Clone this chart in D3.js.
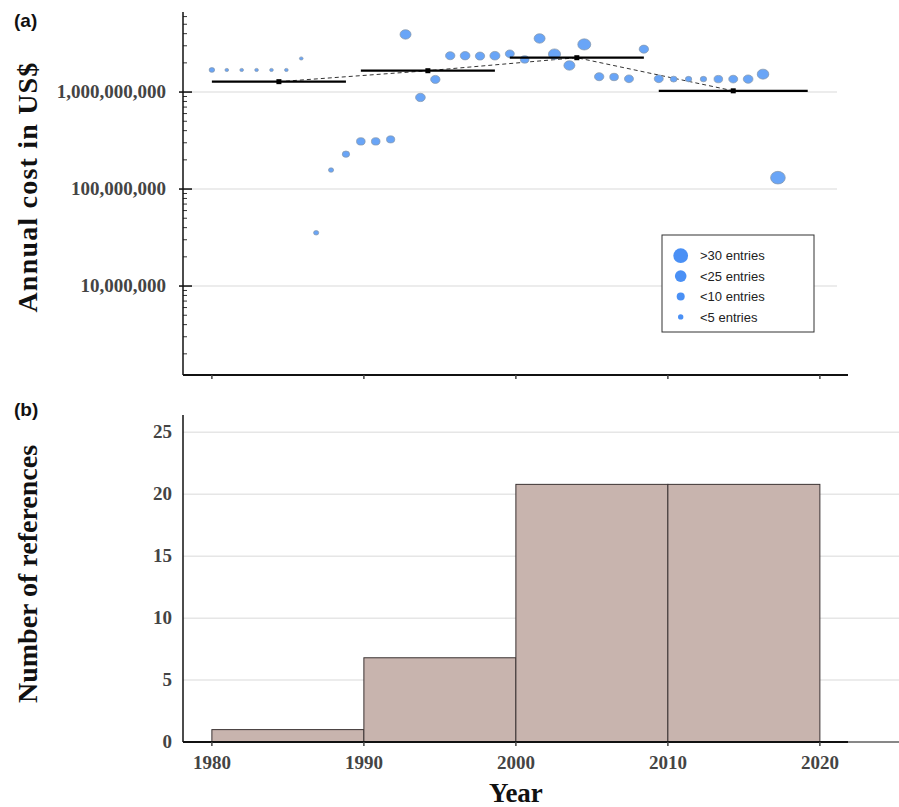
<!DOCTYPE html>
<html>
<head>
<meta charset="utf-8">
<script src="https://cdn.jsdelivr.net/npm/d3@7"></script>
<style>
	body { margin: 0; background: #fff; }
	svg { display: block; }
</style>
</head>
<body>
<svg id="chart"></svg>
<script>
// Panel (a): annual cost per year, panel (b): references per decade
var years = [1980, 1981, 1982, 1983, 1984, 1985, 1986, 1987, 1988, 1989,
	1990, 1991, 1992, 1993, 1994, 1995, 1996, 1997, 1998, 1999,
	2000, 2001, 2002, 2003, 2004, 2005, 2006, 2007, 2008, 2009,
	2010, 2011, 2012, 2013, 2014, 2015, 2016, 2017, 2018];
var costValues = [1.69e9, 1.69e9, 1.69e9, 1.69e9, 1.69e9, 1.69e9, 2.22e9, 3.54e7, 1.57e8, 2.29e8,
	3.1e8, 3.1e8, 3.25e8, 3.93e9, 8.8e8, 1.35e9, 2.37e9, 2.37e9, 2.35e9, 2.37e9,
	2.48e9, 2.17e9, 3.57e9, 2.46e9, 1.88e9, 3.1e9, 1.44e9, 1.43e9, 1.37e9, 2.77e9,
	1.37e9, 1.36e9, 1.36e9, 1.36e9, 1.36e9, 1.36e9, 1.36e9, 1.53e9, 1.31e8];
var entryCounts = [4.5, 2, 2, 2, 2, 2, 2, 4, 4, 8,
	11, 11, 10, 18, 14, 13, 13, 14, 13, 15,
	12, 11, 18, 22, 18, 25, 13, 11, 12, 13,
	12, 7, 6, 6, 11, 12, 14, 20, 32];

var decadeStart = [1980, 1990, 2000, 2010];
var decadeEnd = [1989, 1999, 2009, 2020];
var decadeMean = [1.28e9, 1.66e9, 2.26e9, 1.03e9];

var binStart = [1980, 1990, 2000, 2010];
var binEnd = [1990, 2000, 2010, 2020];
var refCounts = [1, 6.8, 20.8, 20.8];

var costTicks = [1e7, 1e8, 1e9];
var countTicks = [0, 5, 10, 15, 20, 25];
var yearTicks = [1980, 1990, 2000, 2010, 2020];

var legendLabels = ['>30 entries', '<25 entries', '<10 entries', '<5 entries'];
var legendEntries = [32, 20, 9.5, 4.3];

var svgWidth = 899, svgHeight = 807;
var serif = '"Liberation Serif", "Times New Roman", serif';
var sans = '"Liberation Sans", Arial, sans-serif';

var svg = d3.select('#chart').attr('width', svgWidth).attr('height', svgHeight);

var axisX = 183;
var x = d3.scaleLinear().domain([1978.1, 2021.85]).range([axisX, 848]);
// the dots were laid over the axis with a slightly narrower spacing
var xPt = d3.scaleLinear().domain([1980, 2020])
	.range([x(1980), x(1980) + 0.98 * (x(2020) - x(1980))]);

var yTop = d3.scaleLog().domain([1.21e6, 6.69e9]).range([375, 12]);
var yBot = d3.scaleLinear().domain([0, 26.4]).range([742, 415]);
var rScale = d3.scaleSqrt().domain([0, 32]).range([0, 7.35]);

// ---------- panel (a) ----------
var panelA = svg.append('g');

panelA.selectAll('.grid')
	.data(costTicks).enter()
	.append('line')
	.attr('x1', axisX).attr('x2', 837)
	.attr('y1', function(d){ return yTop(d); })
	.attr('y2', function(d){ return yTop(d); })
	.attr('stroke', '#e6e6e6')
	.attr('stroke-width', 1.5);

// log ticks, long ones on the decades
panelA.selectAll('.ytick')
	.data(yTop.ticks()).enter()
	.append('line')
	.attr('x1', function(d){ return costTicks.indexOf(d) >= 0 ? axisX - 4 : axisX; })
	.attr('x2', function(d){ return costTicks.indexOf(d) >= 0 ? axisX + 9 : axisX + 4; })
	.attr('y1', function(d){ return yTop(d); })
	.attr('y2', function(d){ return yTop(d); })
	.attr('stroke', '#333')
	.attr('stroke-width', function(d){ return costTicks.indexOf(d) >= 0 ? 1.8 : 1; });

panelA.selectAll('.ylabel')
	.data(costTicks).enter()
	.append('text')
	.attr('x', 166)
	.attr('y', function(d){ return yTop(d) + 6; })
	.attr('text-anchor', 'end')
	.attr('font-family', serif)
	.attr('font-weight', 'bold')
	.attr('font-size', 19)
	.attr('fill', '#444')
	.text(d3.format(','));

panelA.append('line')
	.attr('x1', axisX).attr('x2', axisX)
	.attr('y1', yTop.range()[1]).attr('y2', yTop.range()[0])
	.attr('stroke', '#111').attr('stroke-width', 1.5);

panelA.append('line')
	.attr('x1', axisX).attr('x2', x.range()[1])
	.attr('y1', yTop.range()[0]).attr('y2', yTop.range()[0])
	.attr('stroke', '#111').attr('stroke-width', 2);

panelA.selectAll('.xtick')
	.data(yearTicks).enter()
	.append('line')
	.attr('x1', function(d){ return x(d); })
	.attr('x2', function(d){ return x(d); })
	.attr('y1', yTop.range()[0]).attr('y2', yTop.range()[0] + 4)
	.attr('stroke', '#444').attr('stroke-width', 1.5);

// dashed line joining the decade means
var meanPts = decadeMean.map(function(m, i){
	return [(decadeStart[i] + decadeEnd[i]) / 2, m];
});
panelA.append('path')
	.datum(meanPts)
	.attr('fill', 'none')
	.attr('stroke', '#333')
	.attr('stroke-width', 1)
	.attr('stroke-dasharray', '4,3')
	.attr('d', d3.line()
		.x(function(d){ return xPt(d[0]); })
		.y(function(d){ return yTop(d[1]); }));

// the dots
panelA.selectAll('.dot')
	.data(years).enter()
	.append('ellipse')
	.attr('cx', function(d){ return xPt(d); })
	.attr('cy', function(d, i){ return yTop(costValues[i]); })
	.attr('rx', function(d, i){ return rScale(entryCounts[i]); })
	.attr('ry', function(d, i){ return rScale(entryCounts[i]) * 0.86; })
	.attr('fill', '#69a5f7')
	.attr('stroke', '#8796a8')
	.attr('stroke-width', 0.7);

// decade mean bars
panelA.selectAll('.mean')
	.data(decadeMean).enter()
	.append('line')
	.attr('x1', function(d, i){ return xPt(decadeStart[i]); })
	.attr('x2', function(d, i){ return xPt(decadeEnd[i]); })
	.attr('y1', function(d){ return yTop(d); })
	.attr('y2', function(d){ return yTop(d); })
	.attr('stroke', '#000')
	.attr('stroke-width', 2.2);

panelA.selectAll('.meanMark')
	.data(meanPts).enter()
	.append('rect')
	.attr('x', function(d){ return xPt(d[0]) - 2.5; })
	.attr('y', function(d){ return yTop(d[1]) - 2.5; })
	.attr('width', 5).attr('height', 5)
	.attr('fill', '#000');

// legend
var legend = panelA.append('g').attr('transform', 'translate(662,235)');
legend.append('rect')
	.attr('width', 152).attr('height', 97)
	.attr('fill', '#fff')
	.attr('stroke', '#333').attr('stroke-width', 1);
legendLabels.forEach(function(l, i){
	var cy = 20.7 + i * 20.4;
	legend.append('circle')
		.attr('cx', 18.7).attr('cy', cy)
		.attr('r', rScale(legendEntries[i]))
		.attr('fill', '#4a90f5');
	legend.append('text')
		.attr('x', 38).attr('y', cy + 4.6)
		.attr('font-family', sans)
		.attr('font-size', 13)
		.attr('fill', '#222')
		.text(l);
});

panelA.append('text')
	.attr('transform', 'translate(37,187) rotate(-90)')
	.attr('text-anchor', 'middle')
	.attr('font-family', serif)
	.attr('font-weight', 'bold')
	.attr('font-size', 28)
	.attr('letter-spacing', 1.2)
	.attr('fill', '#111')
	.text('Annual cost in US$');

svg.append('text')
	.attr('x', 14).attr('y', 27)
	.attr('font-family', sans)
	.attr('font-weight', 'bold')
	.attr('font-size', 19)
	.attr('fill', '#111')
	.text('(a)');

// ---------- panel (b) ----------
var panelB = svg.append('g');

panelB.selectAll('.grid')
	.data(countTicks.slice(1)).enter()
	.append('line')
	.attr('x1', axisX).attr('x2', svgWidth)
	.attr('y1', function(d){ return yBot(d); })
	.attr('y2', function(d){ return yBot(d); })
	.attr('stroke', '#e6e6e6')
	.attr('stroke-width', 1.5);

panelB.selectAll('.bar')
	.data(refCounts).enter()
	.append('rect')
	.attr('x', function(d, i){ return x(binStart[i]); })
	.attr('y', function(d){ return yBot(d); })
	.attr('width', function(d, i){ return x(binEnd[i]) - x(binStart[i]); })
	.attr('height', function(d){ return yBot(0) - yBot(d); })
	.attr('fill', '#c8b4ae')
	.attr('stroke', '#3a3232')
	.attr('stroke-width', 1);

panelB.selectAll('.ylabel')
	.data(countTicks).enter()
	.append('text')
	.attr('x', 172)
	.attr('y', function(d){ return yBot(d) + 6; })
	.attr('text-anchor', 'end')
	.attr('font-family', serif)
	.attr('font-weight', 'bold')
	.attr('font-size', 19)
	.attr('fill', '#444')
	.text(function(d){ return d; });

panelB.append('line')
	.attr('x1', axisX).attr('x2', axisX)
	.attr('y1', yBot.range()[1]).attr('y2', yBot(0))
	.attr('stroke', '#111').attr('stroke-width', 1.5);

panelB.append('line')
	.attr('x1', x.range()[1]).attr('x2', svgWidth)
	.attr('y1', yBot(0)).attr('y2', yBot(0))
	.attr('stroke', '#111').attr('stroke-width', 1);

panelB.append('line')
	.attr('x1', axisX).attr('x2', x.range()[1])
	.attr('y1', yBot(0)).attr('y2', yBot(0))
	.attr('stroke', '#111').attr('stroke-width', 2);

panelB.selectAll('.xtick')
	.data(yearTicks).enter()
	.append('line')
	.attr('x1', function(d){ return x(d); })
	.attr('x2', function(d){ return x(d); })
	.attr('y1', yBot(0)).attr('y2', yBot(0) + 4)
	.attr('stroke', '#444').attr('stroke-width', 1.5);

panelB.selectAll('.xlabel')
	.data(yearTicks).enter()
	.append('text')
	.attr('x', function(d){ return x(d); })
	.attr('y', 769)
	.attr('text-anchor', 'middle')
	.attr('font-family', serif)
	.attr('font-weight', 'bold')
	.attr('font-size', 19)
	.attr('fill', '#444')
	.text(function(d){ return d; });

panelB.append('text')
	.attr('x', x(2000)).attr('y', 802)
	.attr('text-anchor', 'middle')
	.attr('font-family', serif)
	.attr('font-weight', 'bold')
	.attr('font-size', 27)
	.attr('fill', '#111')
	.text('Year');

panelB.append('text')
	.attr('transform', 'translate(37,574) rotate(-90)')
	.attr('text-anchor', 'middle')
	.attr('font-family', serif)
	.attr('font-weight', 'bold')
	.attr('font-size', 28)
	.attr('fill', '#111')
	.text('Number of references');

svg.append('text')
	.attr('x', 14).attr('y', 416)
	.attr('font-family', sans)
	.attr('font-weight', 'bold')
	.attr('font-size', 19)
	.attr('fill', '#111')
	.text('(b)');
</script>
</body>
</html>
